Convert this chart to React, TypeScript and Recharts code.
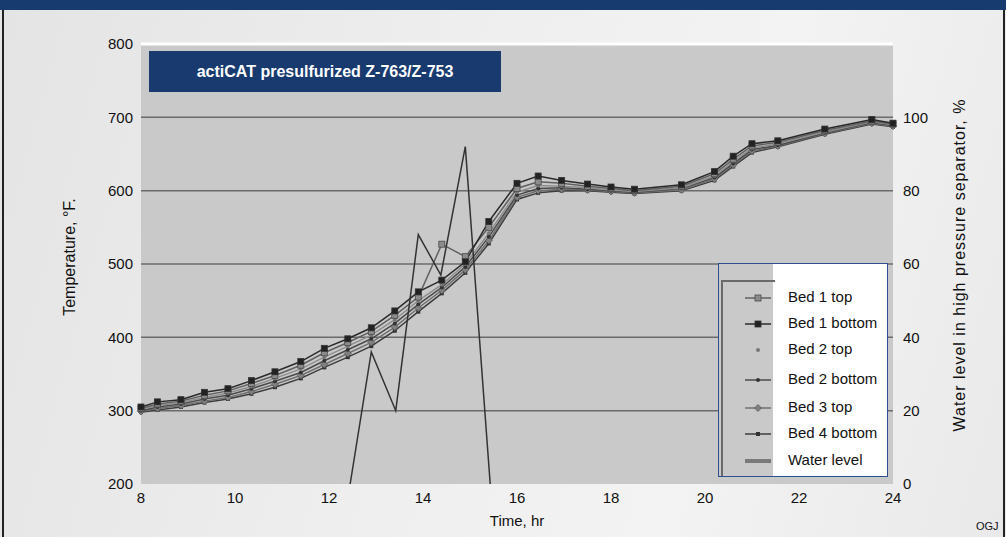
import { CartesianGrid, Line, LineChart, ReferenceLine, XAxis, YAxis } from 'recharts'

const times = [8, 8.35, 8.85, 9.35, 9.85, 10.35, 10.85, 11.4, 11.9, 12.4, 12.9, 13.4, 13.9, 14.4, 14.9, 15.4, 16, 16.45, 16.95, 17.5, 18, 18.5, 19.5, 20.2, 20.6, 21, 21.55, 22.55, 23.55, 24]

const bed1Top = [303, 309, 313, 321, 327, 337, 348, 362, 379, 393, 408, 430, 455, 527, 510, 550, 603, 612, 610, 606, 603, 600, 606, 623, 643, 661, 666, 682, 695, 691]
const bed1Bottom = [305, 312, 315, 325, 330, 341, 353, 367, 385, 398, 413, 436, 462, 478, 503, 558, 610, 620, 614, 609, 605, 602, 608, 626, 647, 664, 668, 684, 697, 692]
const bed2Top = [302, 307, 311, 318, 324, 333, 344, 357, 373, 388, 403, 424, 450, 472, 500, 542, 598, 607, 606, 604, 601, 599, 604, 620, 640, 658, 664, 680, 694, 690]
const bed2Bottom = [300, 305, 309, 316, 321, 330, 340, 352, 368, 383, 398, 419, 445, 468, 496, 537, 594, 603, 604, 602, 600, 598, 603, 618, 637, 656, 662, 679, 693, 689]
const bed3Top = [299, 303, 307, 313, 318, 326, 336, 348, 363, 378, 393, 414, 440, 464, 492, 532, 591, 600, 602, 601, 599, 597, 601, 616, 635, 654, 661, 678, 692, 688]
const bed4Bottom = [298, 301, 305, 311, 316, 323, 332, 344, 359, 373, 388, 409, 435, 460, 488, 528, 588, 597, 600, 600, 598, 596, 600, 614, 633, 652, 660, 677, 691, 687]

const waterTimes = [12.45, 12.9, 13.42, 13.9, 14.38, 14.9, 15.43]
const waterLevel = [0, 36, 20, 68, 57, 92, 0]

const timeTicks = [8, 10, 12, 14, 16, 18, 20, 22, 24]
const tempTicks = [200, 300, 400, 500, 600, 700, 800]
const waterTicks = [0, 20, 40, 60, 80, 100]
const gridTemps = [300, 400, 500, 600, 700]

type Marker = 'square' | 'bigSquare' | 'dot' | 'smallDot' | 'diamond' | 'smallSquare'

interface SeriesConfig {
  key: string
  label: string
  color: string
  values: number[]
  marker: Marker
}

const SERIES: SeriesConfig[] = [
  { key: 'bed4Bottom', label: 'Bed 4 bottom', color: '#3c3c3c', values: bed4Bottom, marker: 'smallSquare' },
  { key: 'bed3Top', label: 'Bed 3 top', color: '#707070', values: bed3Top, marker: 'diamond' },
  { key: 'bed2Bottom', label: 'Bed 2 bottom', color: '#4a4a4a', values: bed2Bottom, marker: 'smallDot' },
  { key: 'bed2Top', label: 'Bed 2 top', color: '#8e8e8e', values: bed2Top, marker: 'dot' },
  { key: 'bed1Top', label: 'Bed 1 top', color: '#606060', values: bed1Top, marker: 'square' },
  { key: 'bed1Bottom', label: 'Bed 1 bottom', color: '#2a2a2a', values: bed1Bottom, marker: 'bigSquare' },
]

const LEGEND_ORDER = ['bed1Top', 'bed1Bottom', 'bed2Top', 'bed2Bottom', 'bed3Top', 'bed4Bottom']

const tempRows = times.map((t, i) => {
  const row: Record<string, number> = { t }
  SERIES.forEach((s) => {
    row[s.key] = s.values[i]
  })
  return row
})

const waterRows = waterTimes.map((t, i) => ({ t, water: waterLevel[i] }))

const FONT = "'Liberation Sans', Arial, sans-serif"

function MarkerShape({ marker, cx, cy }: { marker: Marker; cx: number; cy: number }) {
  switch (marker) {
    case 'bigSquare':
      return <rect x={cx - 3} y={cy - 3} width={6} height={6} fill="#222" stroke="#333" strokeWidth={0.8} />
    case 'square':
      return <rect x={cx - 3} y={cy - 3} width={6} height={6} fill="#8c8c8c" stroke="#4a4a4a" strokeWidth={0.8} />
    case 'dot':
      return <circle cx={cx} cy={cy} r={2} fill="#777" />
    case 'smallDot':
      return <circle cx={cx} cy={cy} r={2} fill="#333" />
    case 'diamond':
      return <polygon points={`${cx},${cy - 3.5} ${cx + 3.5},${cy} ${cx},${cy + 3.5} ${cx - 3.5},${cy}`} fill="#808080" stroke="#5a5a5a" strokeWidth={0.8} />
    case 'smallSquare':
      return <rect x={cx - 2} y={cy - 2} width={4} height={4} fill="#333" />
  }
}

function makeDot(s: SeriesConfig) {
  return (props: any) => {
    const { cx, cy, index } = props
    if (cx == null || cy == null) return <g key={`${s.key}-${index}`} />
    return (
      <g key={`${s.key}-${index}`}>
        <MarkerShape marker={s.marker} cx={cx} cy={cy} />
      </g>
    )
  }
}

function ChartLegend() {
  const rowsY = [34, 60, 86, 116, 144, 170, 197]
  const ordered = LEGEND_ORDER.map((k) => SERIES.find((s) => s.key === k)!)
  return (
    <div
      style={{
        position: 'absolute',
        left: 718,
        top: 263,
        width: 170,
        height: 214,
        border: '1px solid #2d4f8e',
        boxSizing: 'border-box',
        background: '#ffffff',
        fontFamily: FONT,
        fontSize: 15,
        color: '#111',
      }}
    >
      <div style={{ position: 'absolute', left: 0, top: 0, width: 54, height: 212, background: '#c9c9c9' }} />
      <div
        style={{
          position: 'absolute',
          left: 2,
          top: 16,
          width: 52,
          height: 194,
          borderTop: '2px solid #6a6a6a',
          borderLeft: '2px solid #6a6a6a',
        }}
      />
      <svg style={{ position: 'absolute', left: 0, top: 0 }} width={54} height={212}>
        {ordered.map((s, i) => (
          <g key={s.key}>
            {s.marker !== 'dot' && (
              <line x1={26} x2={52} y1={rowsY[i]} y2={rowsY[i]} stroke={s.color} strokeWidth={1.5} />
            )}
            <MarkerShape marker={s.marker} cx={39} cy={rowsY[i]} />
          </g>
        ))}
        <line x1={26} x2={52} y1={rowsY[6]} y2={rowsY[6]} stroke="#7a7a7a" strokeWidth={4} />
      </svg>
      {ordered.map((s, i) => (
        <div key={s.key} style={{ position: 'absolute', left: 69, top: rowsY[i] - 10, whiteSpace: 'nowrap' }}>
          {s.label}
        </div>
      ))}
      <div style={{ position: 'absolute', left: 69, top: rowsY[6] - 10, whiteSpace: 'nowrap' }}>Water level</div>
    </div>
  )
}

export default function App() {
  const tickStyle = { fill: '#111', fontSize: 15, fontFamily: FONT }
  return (
    <div
      style={{
        position: 'absolute',
        left: 0,
        top: 0,
        width: 1006,
        height: 537,
        overflow: 'hidden',
        background: 'linear-gradient(105deg, #e4e4e4 0%, #efefef 45%, #f3f3f3 70%, #e9e9e9 100%)',
        fontFamily: FONT,
      }}
    >
      <div style={{ position: 'absolute', left: 0, top: 0, width: 1006, height: 10, background: '#173a6f' }} />
      <div style={{ position: 'absolute', left: 2, top: 10, width: 2, height: 527, background: '#222' }} />
      <div style={{ position: 'absolute', left: 1003, top: 10, width: 2, height: 527, background: '#222' }} />

      <LineChart
        width={1006}
        height={537}
        margin={{ top: 44, right: 63, bottom: 23, left: 91 }}
        style={{ position: 'absolute', left: 0, top: 0 }}
      >
        <CartesianGrid yAxisId="temp" horizontal={false} vertical={false} fill="#c9c9c9" />
        <XAxis
          dataKey="t"
          type="number"
          domain={[8, 24]}
          ticks={timeTicks}
          axisLine={false}
          tickLine={false}
          tick={tickStyle}
          height={30}
          allowDuplicatedCategory={false}
        />
        <YAxis
          yAxisId="temp"
          orientation="left"
          domain={[200, 800]}
          ticks={tempTicks}
          axisLine={false}
          tickLine={false}
          tick={tickStyle}
          width={50}
        />
        <YAxis
          yAxisId="water"
          orientation="right"
          domain={[0, 120]}
          ticks={waterTicks}
          axisLine={false}
          tickLine={false}
          tick={{ ...tickStyle, textAnchor: 'start' }}
          tickMargin={4}
          width={50}
          allowDataOverflow
        />
        {gridTemps.map((v) => (
          <ReferenceLine key={v} yAxisId="temp" y={v} stroke="#6b6b6b" strokeWidth={1.5} />
        ))}
        <ReferenceLine yAxisId="temp" y={800} stroke="#ffffff" strokeWidth={3} />
        {SERIES.map((s) => (
          <Line
            key={s.key}
            yAxisId="temp"
            data={tempRows}
            dataKey={s.key}
            name={s.label}
            type="linear"
            stroke={s.color}
            strokeWidth={1.5}
            dot={makeDot(s)}
            activeDot={false}
            isAnimationActive={false}
          />
        ))}
        <Line
          yAxisId="water"
          data={waterRows}
          dataKey="water"
          name="Water level"
          type="linear"
          stroke="#333333"
          strokeWidth={1.5}
          dot={false}
          activeDot={false}
          isAnimationActive={false}
        />
      </LineChart>

      <ChartLegend />

      <div
        style={{
          position: 'absolute',
          left: 149,
          top: 51,
          width: 352,
          height: 41,
          background: '#183a6f',
          color: '#fff',
          fontWeight: 'bold',
          fontSize: 16,
          lineHeight: '41px',
          textAlign: 'center',
        }}
      >
        actiCAT presulfurized Z-763/Z-753
      </div>

      <div
        style={{
          position: 'absolute',
          left: 70,
          top: 257,
          transform: 'translate(-50%, -50%) rotate(-90deg)',
          fontSize: 16,
          whiteSpace: 'nowrap',
          color: '#111',
        }}
      >
        Temperature, °F.
      </div>
      <div
        style={{
          position: 'absolute',
          left: 960,
          top: 265,
          transform: 'translate(-50%, -50%) rotate(-90deg)',
          fontSize: 16,
          letterSpacing: 1,
          whiteSpace: 'nowrap',
          color: '#111',
        }}
      >
        Water level in high pressure separator, %
      </div>
      <div style={{ position: 'absolute', left: 517, top: 512, transform: 'translateX(-50%)', fontSize: 15, color: '#111' }}>
        Time, hr
      </div>
      <div style={{ position: 'absolute', left: 976, top: 520, fontSize: 11, color: '#111' }}>OGJ</div>
    </div>
  )
}
